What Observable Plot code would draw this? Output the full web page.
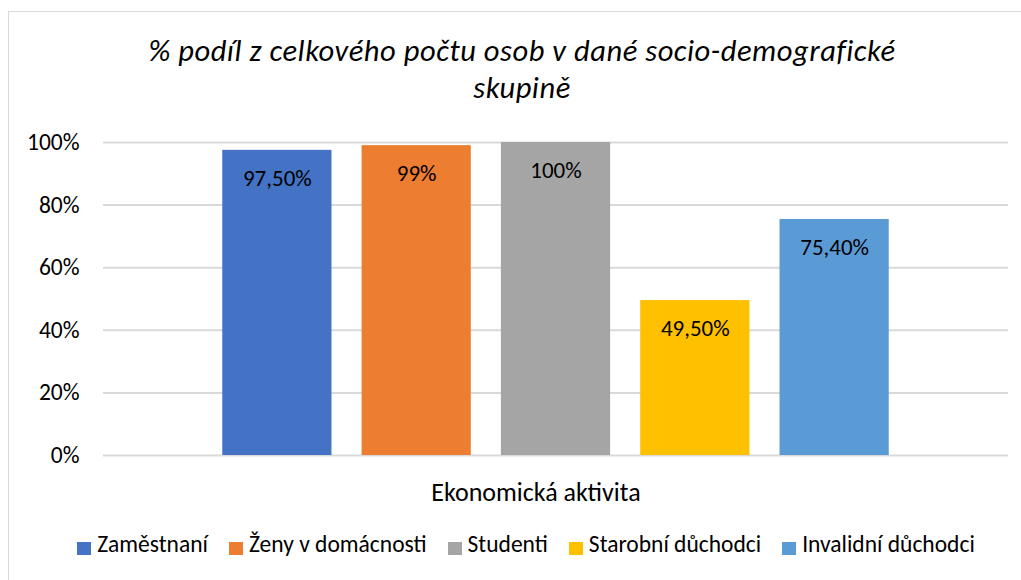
<!DOCTYPE html>
<html>
<head>
<meta charset="utf-8">
<script src="https://cdn.jsdelivr.net/npm/d3@7"></script>
<script src="https://cdn.jsdelivr.net/npm/@observablehq/plot@0.6"></script>
<style>
  html, body { margin: 0; padding: 0; background: #fff; overflow: hidden; }
  body { font-family: Carlito, Calibri, Lato, sans-serif; color: #000; }
  #wrap { position: relative; width: 1021px; height: 580px; overflow: hidden; }
  #border { position: absolute; left: 8px; top: 11px; width: 1100px; height: 700px; border: 1.5px solid #d9d9d9; box-sizing: border-box; }
  #title { position: absolute; left: 0; width: 1044px; top: 32px; text-align: center; font-style: italic; font-size: 30.5px; line-height: 37px; letter-spacing: 0.55px; }
  #chart { position: absolute; left: 0; top: 0; }
  #xtitle { position: absolute; left: 0; width: 1072px; top: 477px; text-align: center; font-size: 26px; line-height: 1.2; }
  #legend { position: absolute; left: 0; width: 1052px; top: 530px; display: flex; justify-content: center; gap: 21px; font-size: 23.5px; line-height: 1.2; }
  .item { display: flex; align-items: flex-start; gap: 6px; }
  .sw { width: 14px; height: 13px; display: inline-block; margin-top: 12px; }
</style>
</head>
<body>
<div id="wrap">
  <div id="border"></div>
  <div id="title"></div>
  <div id="chart"></div>
  <div id="xtitle"></div>
  <div id="legend"></div>
</div>
<script>
const titleLines = ["% podíl z celkového počtu osob v dané socio-demografické", "skupině"];
const axisTitle = "Ekonomická aktivita";
const series = ["Zaměstnaní", "Ženy v domácnosti", "Studenti", "Starobní důchodci", "Invalidní důchodci"];
const values = [0.975, 0.99, 1.00, 0.495, 0.754];
const valueLabels = ["97,50%", "99%", "100%", "49,50%", "75,40%"];
const colors = ["#4472C4", "#ED7D31", "#A5A5A5", "#FFC000", "#5B9BD5"];
const yTicks = [0, 0.2, 0.4, 0.6, 0.8, 1.0];
const yTickLabels = ["0%", "20%", "40%", "60%", "80%", "100%"];

const data = series.map((s, i) => ({series: s, value: values[i], label: valueLabels[i]}));

document.getElementById("title").innerHTML = titleLines.map(t => `<div>${t}</div>`).join("");
document.getElementById("xtitle").textContent = axisTitle;

const legend = document.getElementById("legend");
series.forEach((s, i) => {
  const it = document.createElement("div");
  it.className = "item";
  it.innerHTML = `<span class="sw" style="background:${colors[i]}"></span><span>${s}</span>`;
  legend.appendChild(it);
});

const chart = Plot.plot({
  width: 1021,
  height: 520,
  marginTop: 142,
  marginBottom: 65,
  marginLeft: 103,
  marginRight: 13,
  style: {fontFamily: "Carlito, Calibri, Lato, sans-serif", fontSize: "23px", color: "#000", background: "transparent"},
  x: {domain: series, paddingInner: 0.216, paddingOuter: 0.856, round: false, axis: null},
  y: {domain: [0, 1], axis: null},
  color: {domain: series, range: colors},
  marks: [
    Plot.ruleY(yTicks, {stroke: "#d9d9d9", strokeWidth: 2}),
    Plot.text(yTicks, {y: d => d, text: (d, i) => yTickLabels[i], frameAnchor: "left", textAnchor: "end", dx: -24, fontSize: 23.5, fill: "#000"}),
    Plot.barY(data, {x: "series", y: "value", fill: "series"}),
    Plot.text(data, {x: "series", y: "value", text: "label", dy: 28, fontSize: 23, fill: "#000"})
  ]
});
document.getElementById("chart").appendChild(chart);
</script>
</body>
</html>
